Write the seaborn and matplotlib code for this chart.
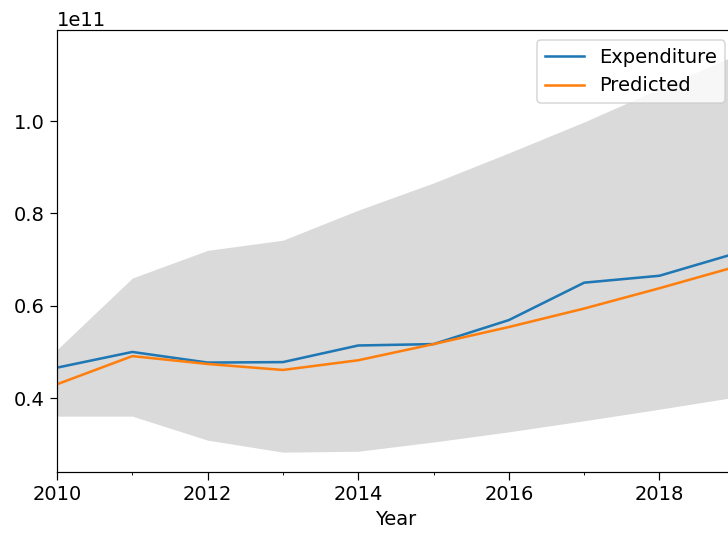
import pandas as pd
import seaborn as sns
import matplotlib.pyplot as plt
import numpy as np
from matplotlib.ticker import MultipleLocator

# Values (units of 1e11)
years = [2010, 2011, 2012, 2013, 2014, 2015, 2016, 2017, 2018, 2019]
expenditure = [0.466, 0.500, 0.477, 0.478, 0.514, 0.517, 0.569, 0.650, 0.665, 0.713]
predicted = [0.430, 0.491, 0.474, 0.461, 0.482, 0.517, 0.554, 0.594, 0.638, 0.684]
ci_lower = [0.361, 0.361, 0.309, 0.283, 0.285, 0.305, 0.327, 0.351, 0.376, 0.402]
ci_upper = [0.505, 0.660, 0.720, 0.742, 0.807, 0.866, 0.931, 0.998, 1.070, 1.142]

scale = 1e11
df = pd.DataFrame({
    "Year": years,
    "Expenditure": np.array(expenditure) * scale,
    "Predicted": np.array(predicted) * scale,
})
df_long = df.melt(id_vars="Year", var_name="series", value_name="value")

plt.rcParams["font.size"] = 13
plt.rcParams["xtick.major.size"] = 5
plt.rcParams["ytick.major.size"] = 5

fig = plt.figure(figsize=(728 / 108, 537 / 108), dpi=108)
ax = fig.add_axes([0.0783, 0.121, 0.931, 0.823])

# Confidence band
ax.fill_between(years, np.array(ci_lower) * scale, np.array(ci_upper) * scale,
                color="gray", alpha=0.29, linewidth=0)

# Lines
sns.lineplot(data=df_long, x="Year", y="value", hue="series",
             palette=["#1f77b4", "#ff7f0e"], linewidth=1.7, ax=ax)

ax.set_xlim(2010, 2019)
ax.set_ylim(0.24 * scale, 1.197 * scale)
ax.xaxis.set_major_locator(MultipleLocator(2))
ax.xaxis.set_minor_locator(MultipleLocator(1))
ax.set_yticks([0.4 * scale, 0.6 * scale, 0.8 * scale, 1.0 * scale])
ax.set_ylabel("")
ax.set_xlabel("Year")
ax.legend(title=None, loc="upper right")

fig.savefig("out.png", dpi=108)
